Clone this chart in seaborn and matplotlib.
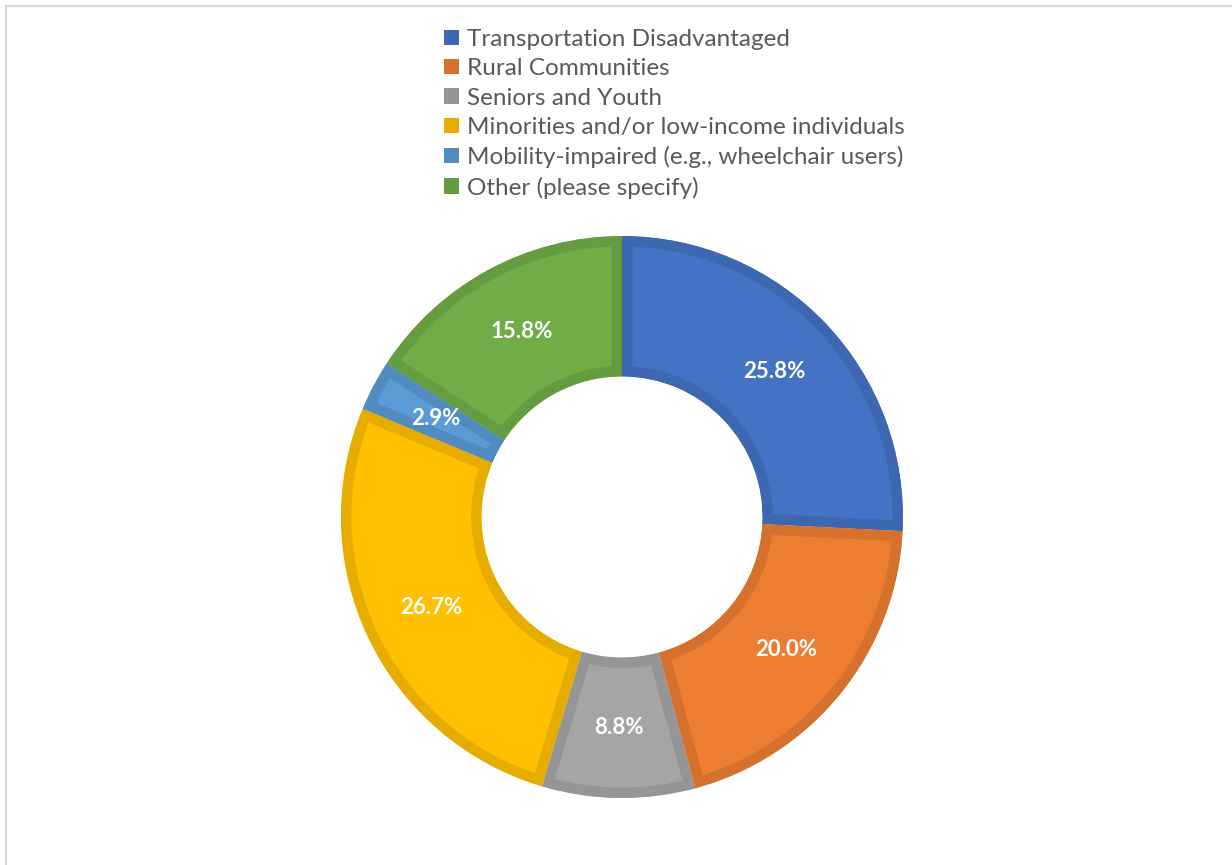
import matplotlib
matplotlib.use("Agg")
import matplotlib.pyplot as plt
import matplotlib.colors as mcolors
from matplotlib.patches import Patch, Rectangle
import seaborn as sns

# data (clockwise from 12 o'clock)
categories = [
    "Transportation Disadvantaged",
    "Rural Communities",
    "Seniors and Youth",
    "Minorities and/or low-income individuals",
    "Mobility-impaired (e.g., wheelchair users)",
    "Other (please specify)",
]
shares = [25.8, 20.0, 8.8, 26.7, 2.9, 15.8]
colors = ["#4472C4", "#ED7D31", "#A5A5A5", "#FFC000", "#5B9BD5", "#70AD47"]

sns.set_theme(style="white")
plt.rcParams["font.family"] = ["Lato", "DejaVu Sans"]

W, H = 1232, 865
fig = plt.figure(figsize=(W / 100, H / 100), dpi=100)

# donut axes: centre ~(622, 517) px, outer radius ~281 px
cx, cy, r = 622, 517, 281
ax = fig.add_axes([(cx - r) / W, (H - cy - r) / H, 2 * r / W, 2 * r / H])

def darker(c, f=0.9):
    rgb = mcolors.to_rgb(c)
    return tuple(v * f for v in rgb)

edge_colors = [darker(c) for c in colors]

wedges, texts, autotexts = ax.pie(
    shares,
    colors=colors,
    startangle=90,
    counterclock=False,
    radius=1.0,
    autopct="%1.1f%%",
    pctdistance=0.75,
    wedgeprops=dict(width=0.5),
    textprops=dict(color="white", fontsize=16, fontweight="bold"),
)
# Excel-like inner border: thick edge clipped to its own wedge
for w, ec in zip(wedges, edge_colors):
    w.set_edgecolor(ec)
    w.set_linewidth(15)
    w.set_clip_on(True)
    w.set_clip_path(w)

ax.set_xlim(-1, 1)
ax.set_ylim(-1, 1)
ax.set_aspect("equal")
ax.axis("off")

handles = [Patch(facecolor=ec, edgecolor="none") for ec in edge_colors]
leg = fig.legend(
    handles, categories,
    loc="upper left",
    bbox_to_anchor=(444 / W, 1 - 29 / H),
    frameon=False,
    fontsize=17.5,
    handlelength=0.6,
    handleheight=0.6,
    handletextpad=0.35,
    labelspacing=0.34,
    borderpad=0,
    borderaxespad=0,
)
for t in leg.get_texts():
    t.set_color("#595959")

# thin grey chart-area border (left and top visible)
fig.add_artist(Rectangle((5.5 / W, -0.05), 1.2, 1.05 - 6.5 / H,
                         transform=fig.transFigure, fill=False,
                         edgecolor="#D9D9D9", linewidth=1.6, clip_on=False))

fig.savefig("out.png", dpi=100, facecolor="white")
